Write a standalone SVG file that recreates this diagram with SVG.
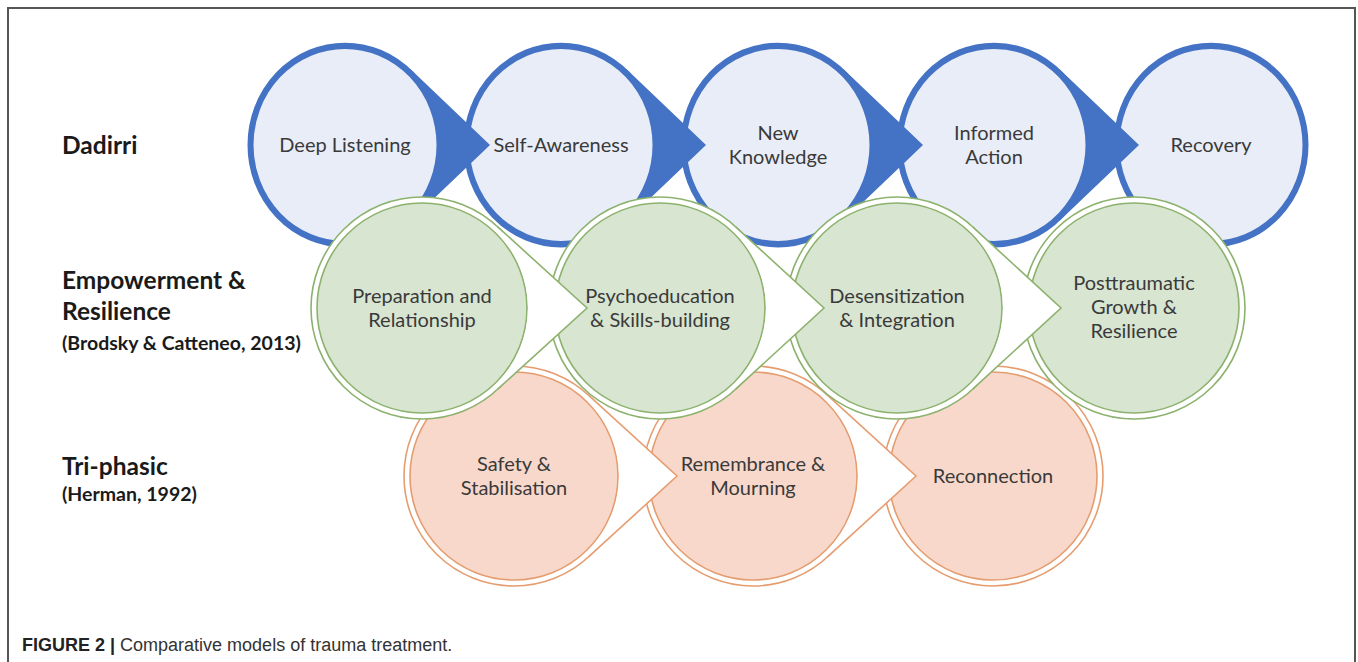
<svg xmlns="http://www.w3.org/2000/svg" width="1358" height="662" viewBox="0 0 1358 662">
<style>
.frame{fill:none;stroke:#555;stroke-width:2}
.bc{fill:#e9edf7;stroke:#4472c4;stroke-width:6}
.ba{fill:#4472c4}
.go{fill:#fff;stroke:#8cb26e;stroke-width:1.6}
.gi{fill:#d8e5d1;stroke:#8cb26e;stroke-width:1.6}
.gaf{fill:#fff}
.gas{fill:none;stroke:#8cb26e;stroke-width:1.6;stroke-linejoin:miter}
.so{fill:#fff;stroke:#e59d70;stroke-width:1.6}
.si{fill:#f8d8cb;stroke:#e59d70;stroke-width:1.6}
.saf{fill:#fff}
.sas{fill:none;stroke:#e59d70;stroke-width:1.6;stroke-linejoin:miter}
.t{font-family:Lato,"Open Sans",sans-serif;font-size:20px;fill:#3a3a3a;text-anchor:middle}
.lab{font-family:Lato,"Open Sans",sans-serif;font-weight:bold;font-size:24.5px;fill:#1a1a1a}
.ref{font-family:Lato,"Open Sans",sans-serif;font-weight:bold;font-size:19.5px;fill:#1a1a1a}
.cap{font-family:"Liberation Sans",Arial,sans-serif;font-size:18px;fill:#333}
.capb{font-weight:bold;fill:#222}
</style>
<path class="frame" d="M8,662 V8 H1355 V662"/>

<g id="labels">
<text class="lab" x="62" y="154">Dadirri</text>
<text class="lab" x="62" y="289">Empowerment &amp;</text>
<text class="lab" x="62" y="320">Resilience</text>
<text class="ref" x="62" y="350">(Brodsky &amp; Catteneo, 2013)</text>
<text class="lab" x="62" y="475">Tri-phasic</text>
<text class="ref" x="62" y="501">(Herman, 1992)</text>
</g>

<!-- Dadirri row -->
<g id="dadirri">
<g id="b5"><circle class="bc" cx="0" cy="0" r="94.5" transform="translate(1211,145) scale(1,1.05)"/><text class="t" x="1211" y="152">Recovery</text></g>
<g id="b4"><circle class="bc" cx="0" cy="0" r="94.5" transform="translate(994,145) scale(1,1.05)"/><text class="t" x="994" y="140">Informed</text><text class="t" x="994" y="164">Action</text></g>
<g id="b3"><circle class="bc" cx="0" cy="0" r="94.5" transform="translate(778,145) scale(1,1.05)"/><text class="t" x="778" y="140">New</text><text class="t" x="778" y="164">Knowledge</text></g>
<g id="b2"><circle class="bc" cx="0" cy="0" r="94.5" transform="translate(561,145) scale(1,1.05)"/><text class="t" x="561" y="152">Self-Awareness</text></g>
<g id="b1"><circle class="bc" cx="0" cy="0" r="94.5" transform="translate(345,145) scale(1,1.05)"/><text class="t" x="345" y="152">Deep Listening</text></g>
</g>
<g id="connectors-dadirri">
<g transform="translate(345,145) scale(1,1.05)"><path class="ba" d="M145,0 L65.6,-72.2 L63.5,-69.9 A94.5,94.5 0 0 1 63.5,69.9 L65.6,72.2 Z"/></g>
<g transform="translate(561,145) scale(1,1.05)"><path class="ba" d="M145,0 L65.6,-72.2 L63.5,-69.9 A94.5,94.5 0 0 1 63.5,69.9 L65.6,72.2 Z"/></g>
<g transform="translate(778,145) scale(1,1.05)"><path class="ba" d="M145,0 L65.6,-72.2 L63.5,-69.9 A94.5,94.5 0 0 1 63.5,69.9 L65.6,72.2 Z"/></g>
<g transform="translate(994,145) scale(1,1.05)"><path class="ba" d="M145,0 L65.6,-72.2 L63.5,-69.9 A94.5,94.5 0 0 1 63.5,69.9 L65.6,72.2 Z"/></g>
</g>

<!-- Tri-phasic row -->
<g id="triphasic">
<g id="s3"><circle class="so" cx="993" cy="476" r="110"/><circle class="si" cx="993" cy="476" r="104"/><text class="t" x="993" y="483">Reconnection</text></g>
<g id="s2"><circle class="so" cx="753" cy="476" r="110"/><circle class="si" cx="753" cy="476" r="104"/><text class="t" x="753" y="471">Remembrance &amp;</text><text class="t" x="753" y="495">Mourning</text></g>
<g id="s1"><circle class="so" cx="514" cy="476" r="110"/><circle class="si" cx="514" cy="476" r="104"/><text class="t" x="514" y="471">Safety &amp;</text><text class="t" x="514" y="495">Stabilisation</text></g>
</g>
<g id="connectors-triphasic">
<g transform="translate(514,476)"><path class="saf" d="M163,0 L74.2,-81.2 L70.9,-77.5 A105,105 0 0 1 70.9,77.5 L74.2,81.2 Z"/><path class="sas" d="M74.2,-81.2 L163,0 L74.2,81.2"/></g>
<g transform="translate(753,476)"><path class="saf" d="M163,0 L74.2,-81.2 L70.9,-77.5 A105,105 0 0 1 70.9,77.5 L74.2,81.2 Z"/><path class="sas" d="M74.2,-81.2 L163,0 L74.2,81.2"/></g>
</g>

<!-- Empowerment row -->
<g id="empowerment">
<g id="g4"><circle class="go" cx="1134" cy="308" r="111"/><circle class="gi" cx="1134" cy="308" r="105"/><text class="t" x="1134" y="290">Posttraumatic</text><text class="t" x="1134" y="314">Growth &amp;</text><text class="t" x="1134" y="338">Resilience</text></g>
<g id="g3"><circle class="go" cx="897" cy="308" r="111"/><circle class="gi" cx="897" cy="308" r="105"/><text class="t" x="897" y="303">Desensitization</text><text class="t" x="897" y="327">&amp; Integration</text></g>
<g id="g2"><circle class="go" cx="660" cy="308" r="111"/><circle class="gi" cx="660" cy="308" r="105"/><text class="t" x="660" y="303">Psychoeducation</text><text class="t" x="660" y="327">&amp; Skills-building</text></g>
<g id="g1"><circle class="go" cx="422" cy="308" r="111"/><circle class="gi" cx="422" cy="308" r="105"/><text class="t" x="422" y="303">Preparation and</text><text class="t" x="422" y="327">Relationship</text></g>
</g>
<g id="connectors-empowerment">
<g transform="translate(422,308)"><path class="gaf" d="M165,0 L75.1,-81.7 L71.8,-78 A106,106 0 0 1 71.8,78 L75.1,81.7 Z"/><path class="gas" d="M75.1,-81.7 L165,0 L75.1,81.7"/></g>
<g transform="translate(660,308)"><path class="gaf" d="M164,0 L75.1,-81.7 L71.8,-78 A106,106 0 0 1 71.8,78 L75.1,81.7 Z"/><path class="gas" d="M75.1,-81.7 L164,0 L75.1,81.7"/></g>
<g transform="translate(897,308)"><path class="gaf" d="M164,0 L75.1,-81.7 L71.8,-78 A106,106 0 0 1 71.8,78 L75.1,81.7 Z"/><path class="gas" d="M75.1,-81.7 L164,0 L75.1,81.7"/></g>
</g>

<text class="cap" x="22" y="651"><tspan class="capb">FIGURE 2 |</tspan> Comparative models of trauma treatment.</text>
</svg>
